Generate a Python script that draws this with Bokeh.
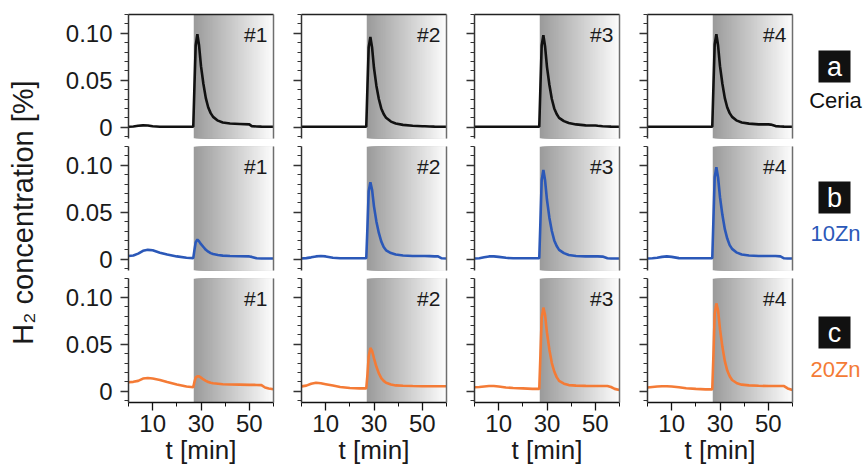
import math
from bokeh.plotting import figure
from bokeh.layouts import row, column
from bokeh.models import Range1d, FixedTicker, LinearAxis, Label, CustomLabelingPolicy
from bokeh.embed import file_html
from bokeh.resources import INLINE
from bokeh.core.properties import value

# ---------------- data ----------------
t_min = [0, 2, 4, 6, 8, 10, 13, 16, 20, 24, 26.8, 27.3, 27.8, 28.5, 29.2, 30, 31, 32, 33, 34,
         35, 37, 39, 42, 46, 50, 51, 53, 55, 56.5, 58, 60]

ceria_1 = [0.0005, 0.0008, 0.0015, 0.002, 0.0018, 0.001, 0.0005, 0.0005, 0.0005, 0.0005,
           0.0005, 0.045, 0.087, 0.099, 0.087, 0.065, 0.046, 0.031, 0.021, 0.015,
           0.011, 0.007, 0.005, 0.004, 0.0035, 0.003, 0.0012, 0.0008, 0.0006, 0.0005, 0.0005, 0.0005]
ceria_2 = [0.0005, 0.0005, 0.0005, 0.0005, 0.0005, 0.0005, 0.0005, 0.0005, 0.0005, 0.0005,
           0.0005, 0.044, 0.085, 0.096, 0.085, 0.063, 0.044, 0.030, 0.020, 0.014,
           0.010, 0.006, 0.004, 0.0025, 0.0015, 0.001, 0.001, 0.0008, 0.0006, 0.0005, 0.0005, 0.0005]
ceria_3 = [0.0005, 0.0005, 0.0005, 0.0005, 0.0005, 0.0005, 0.0005, 0.0005, 0.0005, 0.0005,
           0.0005, 0.045, 0.087, 0.098, 0.086, 0.064, 0.045, 0.030, 0.020, 0.014,
           0.010, 0.0065, 0.0045, 0.003, 0.002, 0.0018, 0.0015, 0.001, 0.0008, 0.0006, 0.0005, 0.0005]
ceria_4 = [0.0005, 0.0005, 0.0005, 0.0005, 0.0005, 0.0005, 0.0005, 0.0005, 0.0005, 0.0005,
           0.0005, 0.045, 0.088, 0.099, 0.087, 0.065, 0.046, 0.031, 0.021, 0.015,
           0.011, 0.007, 0.005, 0.0038, 0.003, 0.003, 0.0028, 0.0012, 0.0008, 0.0006, 0.0005, 0.0005]

zn10_1 = [0.0035, 0.004, 0.006, 0.009, 0.010, 0.0095, 0.007, 0.005, 0.003, 0.0015,
          0.0012, 0.010, 0.018, 0.021, 0.019, 0.016, 0.013, 0.010, 0.008, 0.0065,
          0.0055, 0.0045, 0.0038, 0.0035, 0.0032, 0.003, 0.0025, 0.001, 0.0008, 0.0008, 0.0008, 0.0008]
zn10_2 = [0.0008, 0.0012, 0.002, 0.003, 0.0035, 0.003, 0.0015, 0.001, 0.001, 0.001,
          0.001, 0.035, 0.072, 0.082, 0.074, 0.056, 0.040, 0.028, 0.019, 0.013,
          0.0095, 0.0065, 0.005, 0.004, 0.0035, 0.0035, 0.0035, 0.0033, 0.003, 0.003, 0.001, 0.0008]
zn10_3 = [0.0008, 0.001, 0.002, 0.003, 0.003, 0.0025, 0.0015, 0.001, 0.001, 0.001,
          0.001, 0.042, 0.084, 0.095, 0.084, 0.063, 0.044, 0.030, 0.020, 0.014,
          0.010, 0.0065, 0.0045, 0.0035, 0.003, 0.003, 0.003, 0.0028, 0.001, 0.0008, 0.0008, 0.0008]
zn10_4 = [0.0008, 0.001, 0.0015, 0.0025, 0.003, 0.0025, 0.0012, 0.001, 0.001, 0.001,
          0.001, 0.044, 0.087, 0.098, 0.087, 0.066, 0.047, 0.032, 0.022, 0.015,
          0.011, 0.007, 0.005, 0.004, 0.0035, 0.0035, 0.0035, 0.0035, 0.003, 0.001, 0.0008, 0.0008]

zn20_1 = [0.0095, 0.010, 0.011, 0.0135, 0.014, 0.0135, 0.012, 0.0098, 0.0072, 0.005,
          0.0042, 0.010, 0.0145, 0.0158, 0.0158, 0.0145, 0.0125, 0.011, 0.0098, 0.009,
          0.0085, 0.008, 0.0075, 0.0072, 0.007, 0.0068, 0.0068, 0.0067, 0.0065, 0.004, 0.003, 0.002]
zn20_2 = [0.0052, 0.006, 0.008, 0.009, 0.0085, 0.0075, 0.006, 0.0045, 0.0035, 0.003,
          0.003, 0.018, 0.037, 0.046, 0.043, 0.035, 0.026, 0.019, 0.014, 0.011,
          0.009, 0.0072, 0.0062, 0.0058, 0.0055, 0.0053, 0.0053, 0.0053, 0.0053, 0.0053, 0.0053, 0.0053]
zn20_3 = [0.0042, 0.0045, 0.005, 0.0055, 0.0055, 0.005, 0.004, 0.0035, 0.003, 0.0025,
          0.0025, 0.040, 0.078, 0.089, 0.081, 0.062, 0.044, 0.030, 0.021, 0.015,
          0.011, 0.008, 0.0065, 0.006, 0.0057, 0.0055, 0.0055, 0.0055, 0.0055, 0.0045, 0.0025, 0.0012]
zn20_4 = [0.004, 0.0045, 0.005, 0.0053, 0.0053, 0.005, 0.0042, 0.0032, 0.0025, 0.002,
          0.002, 0.040, 0.082, 0.0935, 0.086, 0.066, 0.047, 0.032, 0.022, 0.016,
          0.012, 0.0085, 0.007, 0.0062, 0.0058, 0.0055, 0.0055, 0.0055, 0.0055, 0.0055, 0.003, 0.0012]

series = [[ceria_1, ceria_2, ceria_3, ceria_4],
          [zn10_1, zn10_2, zn10_3, zn10_4],
          [zn20_1, zn20_2, zn20_3, zn20_4]]

run_labels = ["#1", "#2", "#3", "#4"]
sample_names = ["Ceria", "10Zn", "20Zn"]
sample_letters = ["a", "b", "c"]
sample_colors = ["#111111", "#2b58b8", "#f47b36"]

x_ticks = [10, 30, 50]
x_minor_ticks = [0, 20, 40, 60]
y_ticks = [0, 0.05, 0.10]
y_tick_labels = ["0", "0.05", "0.10"]
y_minor_ticks = [-0.01, 0.01, 0.02, 0.03, 0.04, 0.06, 0.07, 0.08, 0.09, 0.11, 0.12]
shade_start = 27.0

FONT = "Liberation Sans"
X0, X1 = 0, 60
Y0, Y1 = -0.012, 0.12

HIDE_LABELS = "for (const i of [...indices]) { indices.unset(i) }\nreturn indices"


def border_axis(color):
    return LinearAxis(ticker=FixedTicker(ticks=[]), major_tick_in=0, major_tick_out=0,
                      minor_tick_in=0, minor_tick_out=0, major_label_standoff=0,
                      axis_line_color=color, axis_line_width=1.5)


def panel(r, c):
    last_row = r == 2
    p = figure(frame_width=145, frame_height=124,
               x_range=Range1d(X0, X1), y_range=Range1d(Y0, Y1),
               x_axis_location="below" if last_row else None,
               y_axis_location="left",
               min_border_left=68 if c == 0 else 26,
               min_border_right=2,
               min_border_top=14 if r == 0 else 0,
               min_border_bottom=70 if last_row else 8,
               output_backend="svg", toolbar_location=None)
    p.outline_line_color = None
    p.grid.grid_line_color = None
    p.background_fill_color = "white"
    p.border_fill_color = "white"

    # gradient shading of the reduction window
    n = 70
    lefts = [shade_start + (X1 - shade_start) * k / n for k in range(n)]
    cols = []
    for k in range(n):
        g = int(round(155 + (252 - 155) * k / (n - 1)))
        cols.append("#%02x%02x%02x" % (g, g, g))
    p.quad(left=lefts, right=[X1] * n, top=[Y1] * n, bottom=[Y0] * n,
           fill_color=cols, line_color=None)

    p.line(t_min, series[r][c], line_color=sample_colors[r], line_width=2.6)

    yax = p.yaxis[0]
    yax.ticker = FixedTicker(ticks=y_ticks, minor_ticks=y_minor_ticks)
    yax.major_label_overrides = {tk: lb for tk, lb in zip(y_ticks, y_tick_labels)}
    yax.major_tick_in = 0
    yax.major_tick_out = 8
    yax.minor_tick_in = 0
    yax.minor_tick_out = 4
    yax.axis_line_color = "#333333"
    yax.major_tick_line_color = "#333333"
    yax.minor_tick_line_color = "#333333"
    yax.axis_line_width = 1.5
    yax.major_tick_line_width = 1.3
    yax.minor_tick_line_width = 1.0
    yax.major_label_text_font = FONT
    yax.major_label_text_color = "#1a1a1a"
    yax.major_label_standoff = 8
    if c == 0:
        yax.major_label_text_font_size = "24px"
    else:
        yax.major_label_text_font_size = "0px"
        yax.major_label_policy = CustomLabelingPolicy(code=HIDE_LABELS)

    if last_row:
        xax = p.xaxis[0]
        xax.ticker = FixedTicker(ticks=x_ticks, minor_ticks=x_minor_ticks)
        xax.major_tick_in = 0
        xax.major_tick_out = 8
        xax.minor_tick_in = 0
        xax.minor_tick_out = 4
        xax.axis_line_color = "#111111"
        xax.axis_line_width = 1.5
        xax.major_tick_line_width = 1.3
        xax.minor_tick_line_width = 1.0
        xax.major_tick_line_color = "#111111"
        xax.minor_tick_line_color = "#111111"
        xax.major_label_text_font = FONT
        xax.major_label_text_font_size = "24px"
        xax.major_label_text_color = "#1a1a1a"
        xax.major_label_standoff = 4
        xax.axis_label = "t [min]"
        xax.axis_label_text_font = FONT
        xax.axis_label_text_font_size = "26px"
        xax.axis_label_text_font_style = "normal"
        xax.axis_label_text_color = "#1a1a1a"
        xax.axis_label_standoff = 0

    if r == 0:
        p.add_layout(border_axis("#222222"), "above")
    p.add_layout(border_axis("#6e6e6e"), "right")

    p.add_layout(Label(x=57.5, y=0.099, text=run_labels[c], text_align="right",
                       text_baseline="middle", text_font=FONT, text_font_size="21px",
                       text_color="#1a1a1a"))
    return p


rows = []
for r in range(3):
    rows.append(row(*[panel(r, c) for c in range(4)]))
grid = column(*rows)

# y-axis title
yfig = figure(width=60, height=472, x_range=Range1d(0, 60), y_range=Range1d(0, 472),
              x_axis_location=None, y_axis_location=None, min_border=0,
              output_backend="svg", toolbar_location=None)
yfig.outline_line_color = None
yfig.grid.grid_line_color = None
yfig.text(x=[22], y=[260], text=["H\u2082 concentration [%]"], angle=math.pi / 2,
          text_align="center", text_baseline="middle", text_font=value(FONT),
          text_font_size="29px", text_color="#1a1a1a")

# sample labels on the right
rfig = figure(width=71, height=472, x_range=Range1d(0, 71), y_range=Range1d(0, 472),
              x_axis_location=None, y_axis_location=None, min_border=0,
              output_backend="svg", toolbar_location=None)
rfig.outline_line_color = None
rfig.grid.grid_line_color = None
box_y = [406, 275, 140]
name_y = [372, 239, 103]
rfig.rect(x=[40] * 3, y=box_y, width=32, height=32, fill_color="#111111", line_color=None)
rfig.text(x=[40] * 3, y=box_y, text=sample_letters, text_align="center",
          text_baseline="middle", text_font=value(FONT), text_font_size="27px",
          text_color="white")
rfig.text(x=[41] * 3, y=name_y, text=sample_names, text_align="center",
          text_baseline="middle", text_font=value(FONT), text_font_size="22px",
          text_color=sample_colors)

layout = row(yfig, grid, rfig)

with open("out.html", "w") as f:
    f.write(file_html(layout, INLINE))
